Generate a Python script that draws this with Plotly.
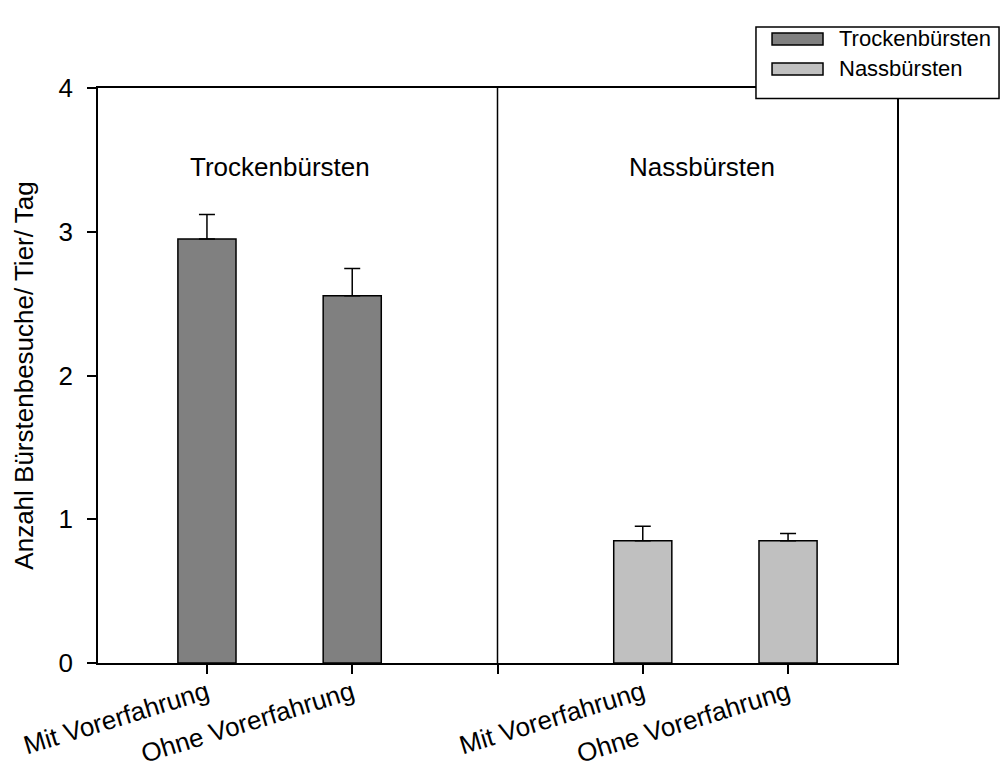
import plotly.graph_objects as go

# Categories and positions on the category axis (slot 2 is the group divider)
conditions = ["Mit Vorerfahrung", "Ohne Vorerfahrung"]
groups = ["Trockenbürsten", "Nassbürsten"]
trocken_x = [0, 1]
nass_x = [3, 4]
divider_x = 2

# Mean visits per animal per day and standard errors
trocken_mean = [2.95, 2.555]
trocken_err = [0.17, 0.19]
nass_mean = [0.851, 0.851]
nass_err = [0.10, 0.05]

y_ticks = [0, 1, 2, 3, 4]
y_title = "Anzahl Bürstenbesuche/ Tier/ Tag"

colors = {"Trockenbürsten": "#808080", "Nassbürsten": "#c0c0c0"}
FONT = "Liberation Sans, Arial, sans-serif"

fig = go.Figure()

for name, xs, means, errs in [
    (groups[0], trocken_x, trocken_mean, trocken_err),
    (groups[1], nass_x, nass_mean, nass_err),
]:
    fig.add_trace(go.Bar(
        x=xs, y=means, name=name, width=0.4,
        marker=dict(color=colors[name], line=dict(color="black", width=1.5)),
        error_y=dict(type="data", symmetric=False, array=errs,
                     arrayminus=[0] * len(errs), color="black",
                     thickness=1.5, width=8),
        showlegend=False,
    ))

tick_vals = trocken_x + [divider_x] + nass_x
tick_text = conditions + [""] + conditions

fig.update_layout(
    width=1000, height=769,
    margin=dict(l=98, r=103, t=88, b=106, autoexpand=False),
    paper_bgcolor="white", plot_bgcolor="white",
    barmode="overlay",
    font=dict(family=FONT, size=24, color="black"),
    xaxis=dict(range=[-0.75, 4.75], tickvals=tick_vals, ticktext=tick_text,
               tickangle=-17, ticks="outside", ticklen=9, tickwidth=1.5,
               tickcolor="black", showline=True, linecolor="black",
               linewidth=1.5, mirror=True, showgrid=False, zeroline=False,
               automargin=False, tickfont=dict(size=26),
               ticklabelstandoff=-6),
    yaxis=dict(range=[0, 4], tickvals=y_ticks, ticks="outside", ticklen=9,
               tickwidth=1.5, tickcolor="black", showline=True,
               linecolor="black", linewidth=1.5, mirror=True, showgrid=False,
               zeroline=False, automargin=False, tickfont=dict(size=26),
               ticklabelstandoff=9,
               title=dict(text=y_title, font=dict(size=26), standoff=17)),
)

# vertical separator between the two brush types
fig.add_shape(type="line", xref="x", yref="y", x0=divider_x, x1=divider_x,
              y0=0, y1=4, line=dict(color="black", width=1.5))

# group headings inside the plot
fig.add_annotation(x=0.5, y=3.45, xref="x", yref="y", text=groups[0],
                   showarrow=False, font=dict(size=26))
fig.add_annotation(x=3.41, y=3.45, xref="x", yref="y", text=groups[1],
                   showarrow=False, font=dict(size=26))

# legend box in the top right corner
fig.add_shape(type="rect", xref="paper", yref="paper", layer="above",
              x0=0.8235, x1=1.1277, y0=0.9817, y1=1.106,
              fillcolor="white", line=dict(color="black", width=1.5))
rows = [(1.0957, 1.0748), (1.0435, 1.0226)]
for name, (top, bot) in zip(groups, rows):
    fig.add_shape(type="rect", xref="paper", yref="paper", layer="above",
                  x0=0.8436, x1=0.9074, y0=bot, y1=top,
                  fillcolor=colors[name], line=dict(color="black", width=1.5))
    fig.add_annotation(x=0.925, y=(top + bot) / 2, xref="paper", yref="paper",
                       text=name, showarrow=False, xanchor="left",
                       yanchor="middle", font=dict(size=22))

fig.write_html("out.html")
